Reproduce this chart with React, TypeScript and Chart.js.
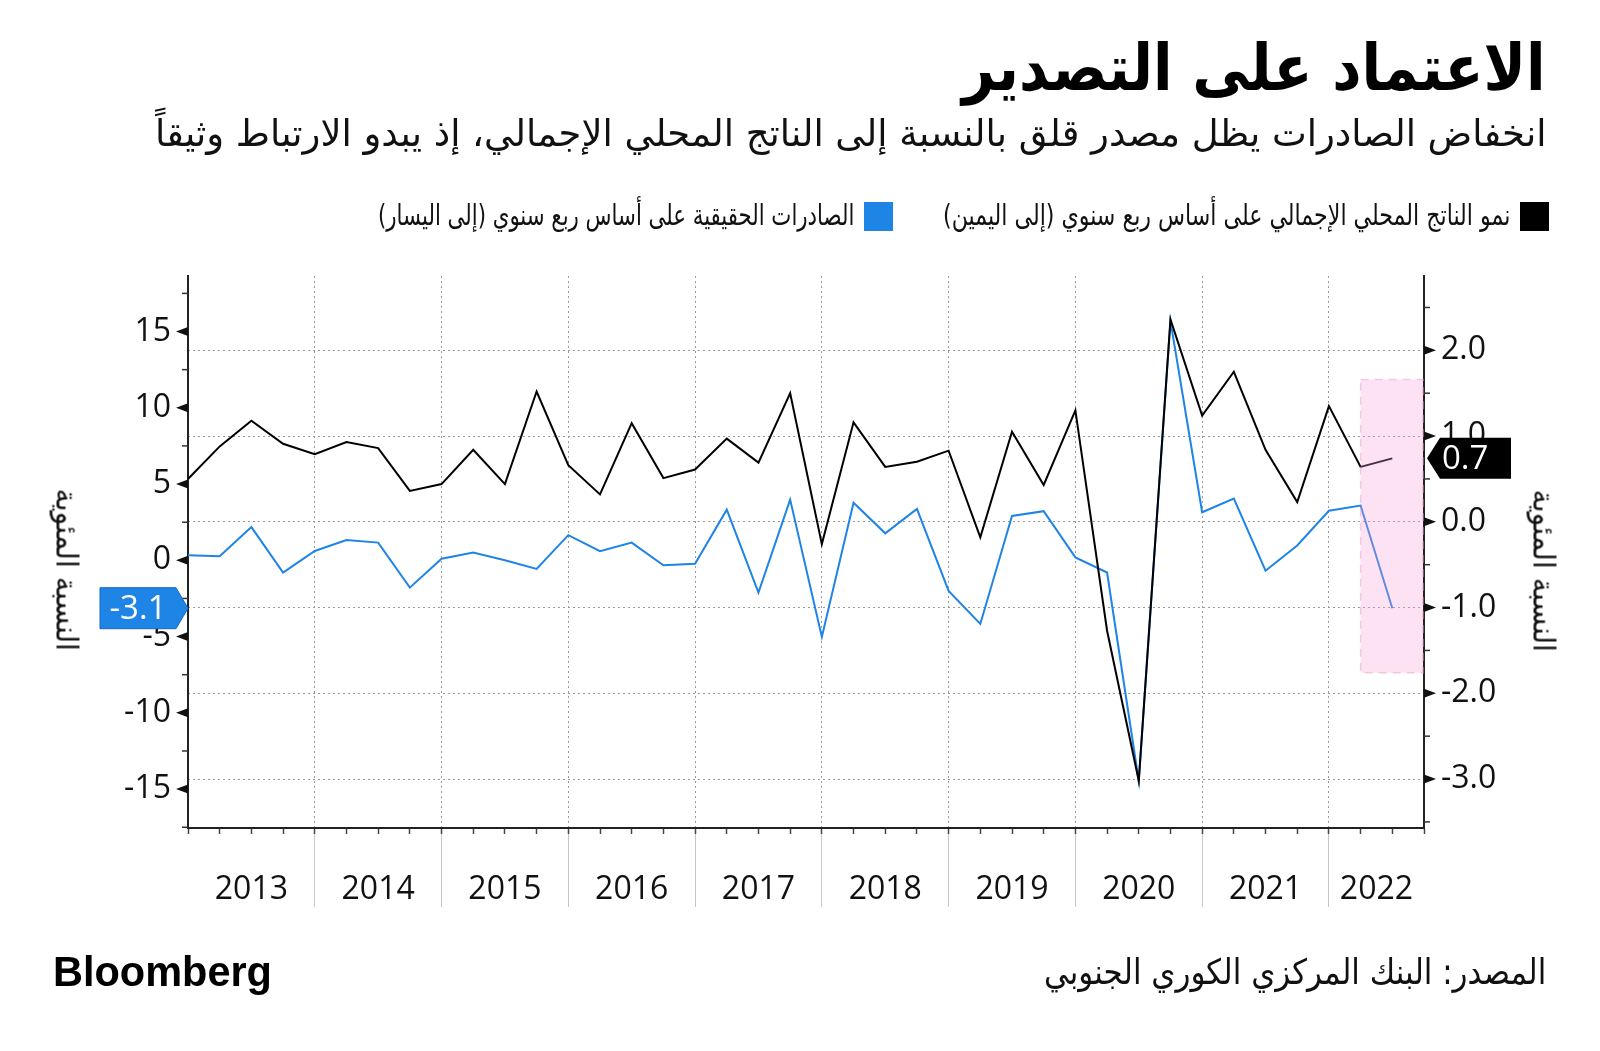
import React, { useEffect, useLayoutEffect, useRef } from 'react';
import { Chart, registerables } from 'chart.js';

Chart.register(...registerables);

// ---------------- data ----------------
const YEARS = ['2013', '2014', '2015', '2016', '2017', '2018', '2019', '2020', '2021', '2022'];
const QUARTERS = [
  '2013 Q1', '2013 Q2', '2013 Q3', '2013 Q4',
  '2014 Q1', '2014 Q2', '2014 Q3', '2014 Q4',
  '2015 Q1', '2015 Q2', '2015 Q3', '2015 Q4',
  '2016 Q1', '2016 Q2', '2016 Q3', '2016 Q4',
  '2017 Q1', '2017 Q2', '2017 Q3', '2017 Q4',
  '2018 Q1', '2018 Q2', '2018 Q3', '2018 Q4',
  '2019 Q1', '2019 Q2', '2019 Q3', '2019 Q4',
  '2020 Q1', '2020 Q2', '2020 Q3', '2020 Q4',
  '2021 Q1', '2021 Q2', '2021 Q3', '2021 Q4',
  '2022 Q1', '2022 Q2', '2022 Q3',
];
// GDP growth q/q (right axis)
const GDP_QOQ = [
  0.50, 0.88, 1.18, 0.91, 0.79, 0.93, 0.86, 0.36, 0.44, 0.84,
  0.44, 1.52, 0.66, 0.32, 1.15, 0.51, 0.61, 0.97, 0.69, 1.50,
  -0.26, 1.16, 0.64, 0.70, 0.83, -0.18, 1.05, 0.43, 1.30, -1.27,
  -3.02, 2.36, 1.24, 1.75, 0.84, 0.23, 1.35, 0.64, 0.74,
];
// Real exports q/q (left axis)
const EXPORTS_QOQ = [
  0.34, 0.27, 2.18, -0.80, 0.61, 1.33, 1.16, -1.79, 0.10, 0.51,
  0.00, -0.56, 1.65, 0.60, 1.16, -0.32, -0.22, 3.32, -2.11, 3.98,
  -5.02, 3.78, 1.77, 3.37, -2.01, -4.17, 2.91, 3.22, 0.19, -0.80,
  -14.47, 15.68, 3.15, 4.05, -0.68, 0.97, 3.25, 3.59, -3.14,
];
const LEFT_TICKS = [-17.5, -15, -12.5, -10, -7.5, -5, -2.5, 0, 2.5, 5, 7.5, 10, 12.5, 15, 17.5];
const LEFT_LABELS = [-15, -10, -5, 0, 5, 10, 15];
const RIGHT_TICKS = [-3.5, -3, -2.5, -2, -1.5, -1, -0.5, 0, 0.5, 1, 1.5, 2, 2.5];
const RIGHT_LABELS = [-3, -2, -1, 0, 1, 2];
const LEFT_RANGE = [-17.55, 18.64];
const RIGHT_RANGE = [-3.571, 2.867];
const HIGHLIGHT_X = [37, 39];
const HIGHLIGHT_Y = [-1.76, 1.66];

const TITLE = 'الاعتماد على التصدير';
const SUBTITLE = 'انخفاض الصادرات يظل مصدر قلق بالنسبة إلى الناتج المحلي الإجمالي، إذ يبدو الارتباط وثيقاً';
const LEGEND_GDP = 'نمو الناتج المحلي الإجمالي على أساس ربع سنوي (إلى اليمين)';
const LEGEND_EXPORTS = 'الصادرات الحقيقية على أساس ربع سنوي (إلى اليسار)';
const AXIS_TITLE = 'النسبة المئوية';
const SOURCE = 'المصدر: البنك المركزي الكوري الجنوبي';

const X_MAX = QUARTERS.length; // axis runs to start of the next quarter
const YEAR_BOUNDARIES = YEARS.map((_, i) => i * 4);
const YEAR_CENTERS = YEARS.map((_, i) => (i * 4 + Math.min(i * 4 + 4, X_MAX)) / 2);

const BLUE = '#1e84e6';
const ARABIC = '"DejaVu Sans Condensed", "DejaVu Sans", sans-serif';
const NUM_FONT = { family: 'Open Sans', size: 32 };

// ---------------- plugin ----------------
const decorPlugin = {
  id: 'decor',
  afterDatasetsDraw(chart: any) {
    const { ctx, scales } = chart;
    const x = scales.x;
    const y1 = scales.y1;
    const l = x.getPixelForValue(HIGHLIGHT_X[0]);
    const r = x.getPixelForValue(HIGHLIGHT_X[1]) - 1;
    const t = y1.getPixelForValue(HIGHLIGHT_Y[1]);
    const b = y1.getPixelForValue(HIGHLIGHT_Y[0]);
    ctx.save();
    ctx.fillStyle = 'rgba(247,160,215,0.3)';
    ctx.fillRect(l, t, r - l, b - t);
    ctx.setLineDash([8, 6]);
    ctx.strokeStyle = 'rgba(238,170,210,0.6)';
    ctx.lineWidth = 1.5;
    ctx.strokeRect(l, t, r - l, b - t);
    ctx.restore();
  },
  afterDraw(chart: any) {
    const { ctx, chartArea, scales } = chart;
    const tickMarks = (scale: any, dir: number) => {
      const ax = dir < 0 ? chartArea.left : chartArea.right;
      ctx.save();
      ctx.fillStyle = '#111';
      ctx.strokeStyle = '#333';
      ctx.lineWidth = 1.5;
      for (const tk of scale.ticks) {
        const py = scale.getPixelForValue(tk.value);
        if (tk.label) {
          ctx.beginPath();
          ctx.moveTo(ax + dir * 12, py);
          ctx.lineTo(ax, py - 4.5);
          ctx.lineTo(ax, py + 4.5);
          ctx.closePath();
          ctx.fill();
        } else {
          ctx.beginPath();
          ctx.moveTo(ax, py);
          ctx.lineTo(ax + dir * 6, py);
          ctx.stroke();
        }
      }
      ctx.restore();
    };
    tickMarks(scales.y, -1);
    tickMarks(scales.y1, 1);

    // last-value tags
    const lastExp = EXPORTS_QOQ[EXPORTS_QOQ.length - 1];
    const lastGdp = GDP_QOQ[GDP_QOQ.length - 1];
    const L = chartArea.left;
    const R = chartArea.right;
    const pyE = scales.y.getPixelForValue(lastExp);
    const pyG = scales.y1.getPixelForValue(lastGdp);
    const h = 20.5;
    ctx.save();
    ctx.fillStyle = BLUE;
    ctx.beginPath();
    ctx.moveTo(L - 88, pyE - h);
    ctx.lineTo(L - 12, pyE - h);
    ctx.lineTo(L, pyE);
    ctx.lineTo(L - 12, pyE + h);
    ctx.lineTo(L - 88, pyE + h);
    ctx.closePath();
    ctx.fill();
    ctx.strokeStyle = '#1869c0';
    ctx.lineWidth = 1;
    ctx.stroke();
    ctx.fillStyle = '#000';
    ctx.beginPath();
    ctx.moveTo(R + 3, pyG);
    ctx.lineTo(R + 16, pyG - h);
    ctx.lineTo(R + 87, pyG - h);
    ctx.lineTo(R + 87, pyG + h);
    ctx.lineTo(R + 16, pyG + h);
    ctx.closePath();
    ctx.fill();
    ctx.fillStyle = '#fff';
    ctx.font = '33px "Open Sans"';
    ctx.textBaseline = 'middle';
    ctx.textAlign = 'center';
    ctx.fillText(lastExp.toFixed(1), L - 50, pyE + 1);
    ctx.textAlign = 'left';
    ctx.fillText(lastGdp.toFixed(1), R + 18, pyG + 1);
    ctx.restore();
  },
};

// ---------------- html text helpers ----------------
type FTProps = {
  text: string; x: number; baseline: number; w: number; size: number;
  weight?: number; family?: string; color?: string; anchor?: 'left' | 'right'; dir?: 'rtl' | 'ltr';
};
function FitText(p: FTProps) {
  const ref = useRef<HTMLSpanElement>(null);
  useLayoutEffect(() => {
    const el = ref.current;
    if (!el) return;
    el.style.transform = 'none';
    const nat = el.offsetWidth;
    if (nat) el.style.transform = `scaleX(${p.w / nat})`;
  });
  const left = p.anchor === 'left' ? p.x : p.x - p.w;
  const top = p.baseline - 0.846 * p.size;
  return (
    <div style={{ position: 'absolute', left, top, width: p.w, height: p.size }}>
      <span
        ref={ref}
        dir={p.dir ?? 'rtl'}
        style={{
          position: 'absolute', left: 0, top: 0, display: 'inline-block', whiteSpace: 'nowrap',
          transformOrigin: '0 50%', fontFamily: p.family ?? ARABIC, fontSize: p.size,
          fontWeight: p.weight ?? 400, lineHeight: `${p.size}px`, color: p.color ?? '#111',
        }}
      >
        {p.text}
      </span>
    </div>
  );
}

function RotText({ text, cx, cy, w, size }: { text: string; cx: number; cy: number; w: number; size: number }) {
  const ref = useRef<HTMLSpanElement>(null);
  useLayoutEffect(() => {
    const el = ref.current;
    if (!el) return;
    el.style.transform = 'none';
    const nat = el.offsetWidth;
    if (nat) el.style.transform = `scaleX(${w / nat})`;
  });
  return (
    <div
      style={{
        position: 'absolute', left: cx - w / 2, top: cy - size / 2, width: w, height: size,
        transform: 'rotate(90deg)', transformOrigin: '50% 50%',
      }}
    >
      <span
        ref={ref}
        dir="rtl"
        style={{
          position: 'absolute', left: 0, top: 0, display: 'inline-block', whiteSpace: 'nowrap',
          transformOrigin: '0 50%', fontFamily: ARABIC, fontSize: size, lineHeight: `${size}px`, color: '#111',
        }}
      >
        {text}
      </span>
    </div>
  );
}

// ---------------- app ----------------
export default function App() {
  const canvasRef = useRef<HTMLCanvasElement>(null);

  useEffect(() => {
    if (!canvasRef.current) return;
    const chart = new Chart(canvasRef.current, {
      type: 'line',
      data: {
        labels: QUARTERS,
        datasets: [
          {
            label: LEGEND_GDP,
            data: GDP_QOQ.map((v, i) => ({ x: i, y: v })),
            xAxisID: 'x',
            yAxisID: 'y1',
            borderColor: '#000',
            borderWidth: 2,
            pointRadius: 0,
            tension: 0,
          },
          {
            label: LEGEND_EXPORTS,
            data: EXPORTS_QOQ.map((v, i) => ({ x: i, y: v })),
            xAxisID: 'x',
            yAxisID: 'y',
            borderColor: BLUE,
            borderWidth: 2,
            pointRadius: 0,
            tension: 0,
          },
        ],
      },
      options: {
        responsive: false,
        animation: false,
        devicePixelRatio: 1,
        events: [],
        layout: { padding: { left: 78, right: 66, top: 276, bottom: 117 } },
        plugins: { legend: { display: false }, tooltip: { enabled: false } },
        scales: {
          x: {
            type: 'linear',
            position: 'bottom',
            min: 0,
            max: X_MAX,
            weight: 0,
            afterBuildTicks: (s: any) => {
              s.ticks = QUARTERS.map((_, i) => ({ value: i })).concat([{ value: X_MAX }]);
            },
            ticks: { display: false, autoSkip: false },
            grid: { display: true, drawOnChartArea: false, drawTicks: true, tickLength: 6, tickColor: '#444', tickWidth: 1.5 },
            border: { display: true, color: '#222', width: 2 },
            afterFit: (s: any) => { s.height = 6; },
          } as any,
          xYear: {
            type: 'linear',
            position: 'bottom',
            min: 0,
            max: X_MAX,
            weight: 1,
            afterBuildTicks: (s: any) => {
              s.ticks = [...YEAR_BOUNDARIES, ...YEAR_CENTERS].sort((a, b) => a - b).map((v) => ({ value: v }));
            },
            ticks: {
              autoSkip: false,
              maxRotation: 0,
              minRotation: 0,
              padding: -36,
              font: NUM_FONT,
              color: '#111',
              callback: (v: any) => {
                const idx = YEAR_CENTERS.indexOf(Number(v));
                return idx >= 0 ? YEARS[idx] : '';
              },
            },
            grid: {
              display: true,
              drawOnChartArea: true,
              drawTicks: true,
              tickLength: 73,
              lineWidth: 1,
              tickWidth: 1,
              color: (c: any) => (c.tick && YEAR_BOUNDARIES.includes(c.tick.value) && c.tick.value > 0 ? '#9a9a9a' : 'rgba(0,0,0,0)'),
              tickColor: (c: any) => (c.tick && YEAR_BOUNDARIES.includes(c.tick.value) && c.tick.value > 0 ? '#c6c6c6' : 'rgba(0,0,0,0)'),
            },
            border: { display: false, dash: [2, 3] },
            afterFit: (s: any) => { s.height = 100; },
          } as any,
          y: {
            type: 'linear',
            position: 'left',
            min: LEFT_RANGE[0],
            max: LEFT_RANGE[1],
            afterBuildTicks: (s: any) => { s.ticks = LEFT_TICKS.map((v) => ({ value: v })); },
            ticks: {
              autoSkip: false,
              padding: 17,
              font: NUM_FONT,
              color: '#111',
              callback: (v: any) => (LEFT_LABELS.includes(Number(v)) ? String(v) : ''),
            },
            grid: { display: false, drawTicks: false },
            border: { display: true, color: '#222', width: 2 },
            afterFit: (s: any) => { s.width = 110; },
          } as any,
          y1: {
            type: 'linear',
            position: 'right',
            min: RIGHT_RANGE[0],
            max: RIGHT_RANGE[1],
            afterBuildTicks: (s: any) => { s.ticks = RIGHT_TICKS.map((v) => ({ value: v })); },
            ticks: {
              autoSkip: false,
              padding: 17,
              font: NUM_FONT,
              color: '#111',
              callback: (v: any) => (RIGHT_LABELS.includes(Number(v)) ? Number(v).toFixed(1) : ''),
            },
            grid: {
              display: true,
              drawOnChartArea: true,
              drawTicks: false,
              lineWidth: 1,
              color: (c: any) => (c.tick && RIGHT_LABELS.includes(c.tick.value) ? '#9a9a9a' : 'rgba(0,0,0,0)'),
            },
            border: { display: true, color: '#222', width: 2, dash: [2, 3] },
            afterFit: (s: any) => { s.width = 110; },
          } as any,
        },
      },
      plugins: [decorPlugin],
    } as any);
    return () => chart.destroy();
  }, []);

  return (
    <div style={{ position: 'absolute', left: 0, top: 0, width: 1600, height: 1051, background: '#fff', overflow: 'hidden' }}>
      <canvas ref={canvasRef} width={1600} height={1051} style={{ position: 'absolute', left: 0, top: 0 }} />
      <FitText text={TITLE} x={1546} baseline={90} w={584} size={64} weight={700} color="#000" />
      <FitText text={SUBTITLE} x={1546} baseline={146} w={1391} size={37} color="#111" />
      <div style={{ position: 'absolute', left: 1520, top: 202, width: 29, height: 29, background: '#000' }} />
      <FitText text={LEGEND_GDP} x={1510} baseline={226} w={567} size={29} color="#111" />
      <div style={{ position: 'absolute', left: 864, top: 202, width: 29, height: 29, background: BLUE }} />
      <FitText text={LEGEND_EXPORTS} x={854} baseline={226} w={476} size={29} color="#111" />
      <RotText text={AXIS_TITLE} cx={66} cy={570} w={163} size={30} />
      <RotText text={AXIS_TITLE} cx={1543} cy={571} w={163} size={30} />
      <FitText text="Bloomberg" x={53} baseline={986} w={219} size={43} weight={700} anchor="left" dir="ltr"
        family='"Liberation Sans", Arial, sans-serif' color="#000" />
      <FitText text={SOURCE} x={1546} baseline={985} w={502} size={35} color="#111" />
    </div>
  );
}
